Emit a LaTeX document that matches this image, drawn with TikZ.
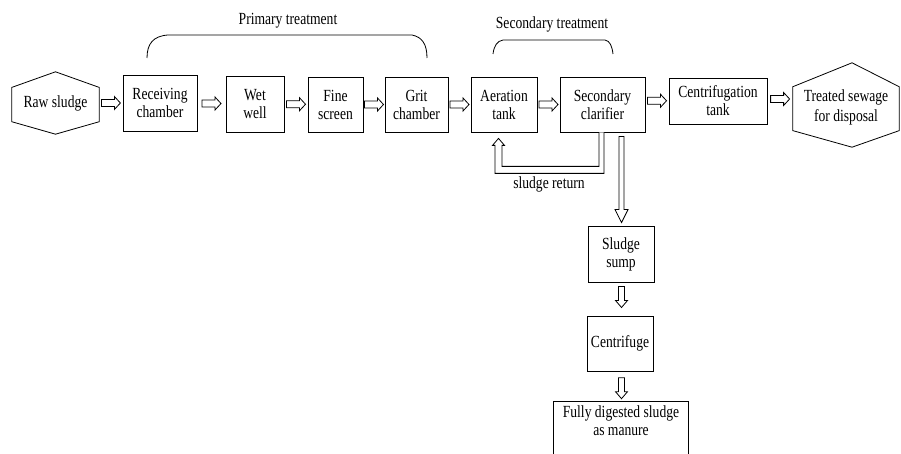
\documentclass[tikz,border=0pt]{standalone}
\usepackage{fontspec}
\setmainfont{Liberation Serif}[FakeStretch=0.8]
\usetikzlibrary{calc}

\tikzset{
  txt/.style={font=\fontsize{17}{18}\selectfont, align=center, inner sep=0pt},
  unitbox/.style={txt, draw, line width=0.8pt},
  flow/.style={draw, line width=0.8pt, fill=white, line join=miter},
  brace/.style={draw, line width=0.8pt},
  % open block arrow pointing right
  rarrow/.pic={\path[flow] (-9.5,-3.5) -- (3.5,-3.5) -- (3.5,-6.5) -- (9.5,0)
      -- (3.5,6.5) -- (3.5,3.5) -- (-9.5,3.5) -- cycle;},
  % open block arrow pointing down
  darrow/.pic={\path[flow] (-3,-10.5) -- (-3,3.5) -- (-6,3.5) -- (0,10.5)
      -- (6,3.5) -- (3,3.5) -- (3,-10.5) -- cycle;}
}

\begin{document}
\begin{tikzpicture}[x=1pt, y=-1pt]
\useasboundingbox (0,0) rectangle (901,454);
\clip (0,0) rectangle (901,454);

% main line of units
\node[txt, minimum width=87, minimum height=62] (raw) at (55.5,103) {Raw sludge};
\node[unitbox, minimum width=74, minimum height=56] (recv) at (160,103) {Receiving\\chamber};
\node[unitbox, minimum width=58, minimum height=56] (wet) at (255,104) {Wet\\well};
\node[unitbox, minimum width=55, minimum height=55] (fine) at (335.5,104.5) {Fine\\screen};
\node[unitbox, minimum width=63, minimum height=55] (grit) at (416.5,104.5) {Grit\\chamber};
\node[unitbox, minimum width=66, minimum height=55] (aer) at (504,104.5) {Aeration\\tank};
\node[unitbox, minimum width=85, minimum height=55] (clar) at (602.5,104.5) {Secondary\\clarifier};
\node[unitbox, minimum width=98, minimum height=46] (cent) at (718,101) {Centrifugation\\tank};
\node[txt, minimum width=106, minimum height=84] (treat) at (846,107) {Treated sewage\\[2pt]for disposal};

% sludge line
\node[unitbox, minimum width=66, minimum height=56] (sump) at (621,254) {Sludge\\sump};
\node[unitbox, minimum width=66, minimum height=55] (cfg) at (620,343.5) {Centrifuge};
\node[txt, minimum width=134, minimum height=38, anchor=north] (fully) at (621,401) {Fully digested sludge\\as manure};
\draw[line width=0.8pt] (fully.north west) rectangle ($(fully.north east)+(0,70)$);

% hexagonal end points
\draw[line width=0.8pt] (raw.north)
  -- ($(raw.north east)!0.25!(raw.south east)$) -- ($(raw.north east)!0.8!(raw.south east)$)
  -- (raw.south)
  -- ($(raw.north west)!0.8!(raw.south west)$) -- ($(raw.north west)!0.25!(raw.south west)$)
  -- cycle;
\draw[line width=0.8pt] ($(treat.north)+(6,-2)$)
  -- ($(treat.north east)!0.26!(treat.south east)$) -- ($(treat.north east)!0.78!(treat.south east)$)
  -- ($(treat.south)+(6,-2)$)
  -- ($(treat.north west)!0.78!(treat.south west)$) -- ($(treat.north west)!0.26!(treat.south west)$)
  -- cycle;

% flow arrows between units
\pic at ($(raw.east)!0.5!(recv.west)$) {rarrow};
\pic at ($(recv.east)!0.5!(wet.west)$) {rarrow};
\pic at ($(wet.east)!0.5!(fine.west)$) {rarrow};
\pic at ($(fine.east)!0.5!(grit.west)$) {rarrow};
\pic at ($(grit.east)!0.5!(aer.west)$) {rarrow};
\pic at ($(aer.east)!0.5!(clar.west)$) {rarrow};
\pic at ($(clar.east)!0.5!(cent.west)+(0,-2)$) {rarrow};
\pic at ($(cent.east)!0.5!(treat.west)+(0,-5)$) {rarrow};
\pic at ($(sump.south)!0.5!(cfg.north)+(1,-2)$) {darrow};
\pic at ($(cfg.south)!0.5!(fully.north)+(1,2)$) {darrow};

% sludge return from the clarifier to the aeration tank
\path[flow] ($(clar.south)+(-3.5,0)$) -- ($(clar.south)+(-3.5,34)$)
  -- ($(aer.south)+(-2,34)$) -- ($(aer.south)+(-2,13)$)
  -- ($(aer.south)+(0.5,13)$) -- ($(aer.south)+(-5.5,6)$)
  -- ($(aer.south)+(-11.5,13)$) -- ($(aer.south)+(-9,13)$)
  -- ($(aer.south)+(-9,41)$) -- ($(clar.south)+(1.5,41)$)
  -- ($(clar.south)+(1.5,0)$);
\node[txt] (ret) at (549,184) {sludge return};

% waste sludge from the clarifier down to the sump
\path[flow] ($(sump.north)+(-2,-89)$) -- ($(sump.north)+(-2,-16)$)
  -- ($(sump.north)+(-6,-16)$) -- ($(sump.north)+(0.5,-3)$)
  -- ($(sump.north)+(7,-16)$) -- ($(sump.north)+(3,-16)$)
  -- ($(sump.north)+(3,-89)$) -- cycle;

% treatment stage brackets
\node[txt] (prim) at (288,21) {Primary treatment};
\draw[brace] (147,58) .. controls (147,44) and (153,36) .. (168,35) -- (412,35)
  .. controls (422,37) and (427,44) .. (427,58);
\node[txt] (sec) at (552,24) {Secondary treatment};
\draw[brace] (493,54) .. controls (494,46) and (497,41) .. (503,40) -- (605,40)
  .. controls (610,41) and (612,46) .. (613,54);
\end{tikzpicture}
\end{document}
